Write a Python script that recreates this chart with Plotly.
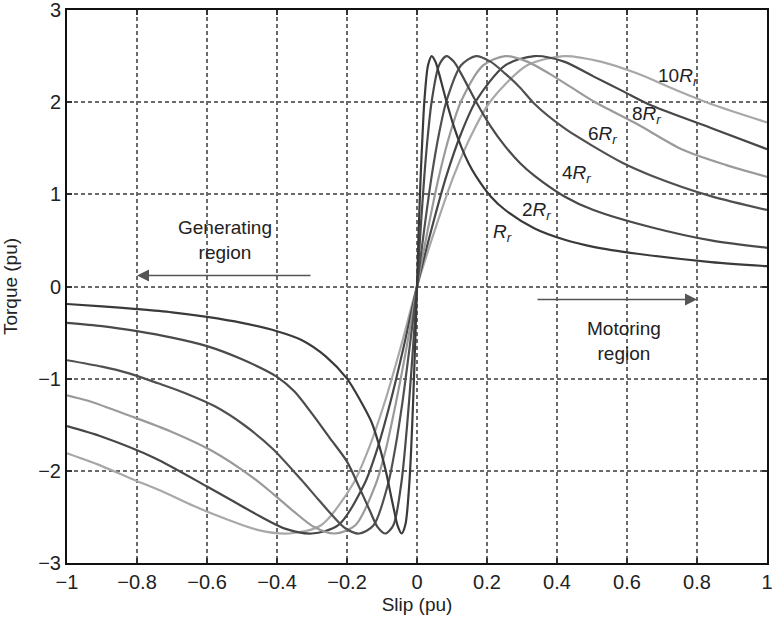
import plotly.graph_objects as go

# ---- data (slip in pu, torque in pu) ----
slip_r = [-1.0, -0.9, -0.8, -0.7, -0.6, -0.5, -0.4, -0.33, -0.26, -0.2, -0.16, -0.13, -0.11,
          -0.088, -0.077, -0.066, -0.055, -0.044, -0.033, -0.022, -0.0165, -0.011, -0.0055, 0,
          0.005, 0.0105, 0.016, 0.021, 0.0315, 0.042, 0.0525, 0.063, 0.0735, 0.084, 0.105,
          0.126, 0.147, 0.168, 0.21, 0.252, 0.336, 0.42, 0.504, 0.63, 0.84, 1.0]
torque_r = [-0.19, -0.215, -0.245, -0.28, -0.33, -0.395, -0.485, -0.58, -0.76, -1.0, -1.25, -1.47, -1.70,
            -2.02, -2.22, -2.42, -2.60, -2.68, -2.58, -2.14, -1.75, -1.24, -0.645, 0,
            0.63, 1.20, 1.66, 2.01, 2.40, 2.50, 2.44, 2.31, 2.16, 2.01, 1.74,
            1.52, 1.34, 1.20, 0.98, 0.83, 0.63, 0.51, 0.43, 0.355, 0.265, 0.22]

slip_2r = [-1.0, -0.9, -0.8, -0.7, -0.6, -0.5, -0.4, -0.35, -0.3, -0.25, -0.2, -0.16, -0.135,
           -0.1125, -0.09, -0.0675, -0.045, -0.034, -0.0225, -0.011, 0,
           0.0105, 0.021, 0.0315, 0.042, 0.063, 0.084, 0.105, 0.126, 0.147, 0.168, 0.21,
           0.252, 0.294, 0.336, 0.42, 0.504, 0.672, 0.84, 1.0]
torque_2r = [-0.394, -0.43, -0.485, -0.555, -0.647, -0.79, -0.98, -1.14, -1.38, -1.64, -1.90, -2.22, -2.43,
             -2.61, -2.68, -2.59, -2.14, -1.75, -1.24, -0.645, 0,
             0.63, 1.20, 1.66, 2.01, 2.40, 2.50, 2.44, 2.31, 2.16, 2.01, 1.74,
             1.52, 1.34, 1.20, 0.98, 0.83, 0.64, 0.50, 0.42]

slip_4r = [-1.0, -0.9, -0.825, -0.74, -0.66, -0.5775, -0.495, -0.4125, -0.33, -0.289, -0.2475,
           -0.206, -0.165, -0.124, -0.0825, -0.062, -0.041, -0.0206, 0,
           0.021, 0.042, 0.063, 0.084, 0.126, 0.168, 0.21, 0.252, 0.294, 0.336, 0.42,
           0.504, 0.588, 0.672, 0.84, 1.0]
torque_4r = [-0.80, -0.87, -0.94, -1.05, -1.16, -1.30, -1.50, -1.76, -2.10, -2.28, -2.46,
             -2.62, -2.68, -2.59, -2.14, -1.75, -1.24, -0.645, 0,
             0.63, 1.20, 1.66, 2.01, 2.40, 2.50, 2.44, 2.31, 2.16, 1.98, 1.72,
             1.52, 1.34, 1.20, 0.98, 0.83]

slip_6r = [-1.0, -0.94, -0.8225, -0.705, -0.5875, -0.47, -0.411, -0.3525, -0.294, -0.235,
           -0.176, -0.1175, -0.088, -0.059, -0.029, 0,
           0.0315, 0.063, 0.0945, 0.126, 0.189, 0.252, 0.315, 0.378, 0.441, 0.504,
           0.63, 0.756, 0.882, 1.0]
torque_6r = [-1.18, -1.24, -1.40, -1.57, -1.78, -2.07, -2.25, -2.44, -2.61, -2.68,
             -2.59, -2.14, -1.75, -1.24, -0.645, 0,
             0.63, 1.20, 1.66, 2.01, 2.40, 2.50, 2.44, 2.31, 2.16, 2.01,
             1.76, 1.49, 1.32, 1.19]

slip_8r = [-1.0, -0.9, -0.75, -0.6, -0.525, -0.45, -0.375, -0.30, -0.225, -0.15, -0.1125,
           -0.075, -0.0375, 0,
           0.042, 0.084, 0.126, 0.168, 0.252, 0.336, 0.42, 0.504, 0.588, 0.672, 0.84, 1.0]
torque_8r = [-1.515, -1.63, -1.86, -2.17, -2.33, -2.49, -2.63, -2.68, -2.59, -2.14, -1.75,
             -1.24, -0.645, 0,
             0.63, 1.20, 1.66, 2.01, 2.40, 2.50, 2.44, 2.28, 2.12, 1.96, 1.72, 1.49]

slip_10r = [-1.0, -0.9125, -0.82, -0.73, -0.639, -0.5475, -0.456, -0.365, -0.274, -0.1825,
            -0.137, -0.091, -0.0456, 0,
            0.0525, 0.105, 0.1575, 0.21, 0.315, 0.42, 0.525, 0.63, 0.735, 0.84, 1.0]
torque_10r = [-1.81, -1.93, -2.08, -2.22, -2.38, -2.52, -2.64, -2.68, -2.59, -2.14,
              -1.75, -1.24, -0.645, 0,
              0.63, 1.20, 1.66, 2.01, 2.40, 2.50, 2.44, 2.31, 2.14, 1.98, 1.78]

series_names = ["10Rr", "8Rr", "6Rr", "4Rr", "2Rr", "Rr"]
series_slip = [slip_10r, slip_8r, slip_6r, slip_4r, slip_2r, slip_r]
series_torque = [torque_10r, torque_8r, torque_6r, torque_4r, torque_2r, torque_r]
series_color = ["#a8a8a8", "#474747", "#9a9a9a", "#505050", "#4a4a4a", "#3a3a3a"]

x_ticks = [-1, -0.8, -0.6, -0.4, -0.2, 0, 0.2, 0.4, 0.6, 0.8, 1]
y_ticks = [-3, -2, -1, 0, 1, 2, 3]

# curve labels: (text, slip, torque)
curve_labels = [
    ("10<i>R</i><sub><i>r</i></sub>", 0.745, 2.27),
    ("8<i>R</i><sub><i>r</i></sub>", 0.655, 1.86),
    ("6<i>R</i><sub><i>r</i></sub>", 0.53, 1.64),
    ("4<i>R</i><sub><i>r</i></sub>", 0.455, 1.22),
    ("2<i>R</i><sub><i>r</i></sub>", 0.34, 0.82),
    ("<i>R</i><sub><i>r</i></sub>", 0.245, 0.58),
]

FONT = "Liberation Sans, Arial, Helvetica, sans-serif"

fig = go.Figure()
for name, xs, ys, col in zip(series_names, series_slip, series_torque, series_color):
    fig.add_trace(go.Scatter(
        x=xs, y=ys, mode="lines", name=name,
        line=dict(color=col, width=2.2, shape="spline", smoothing=0.8),
        showlegend=False, hoverinfo="x+y",
    ))

annotations = []
for txt, sx, ty in curve_labels:
    annotations.append(dict(x=sx, y=ty, xref="x", yref="y", text=txt, showarrow=False,
                            font=dict(family=FONT, size=19, color="#222")))

# region texts
annotations.append(dict(x=-0.55, y=0.5, xref="x", yref="y", text="Generating<br>region",
                        showarrow=False, font=dict(family=FONT, size=19, color="#222")))
annotations.append(dict(x=0.59, y=-0.59, xref="x", yref="y", text="Motoring<br>region",
                        showarrow=False, font=dict(family=FONT, size=19, color="#222")))
# arrows
annotations.append(dict(x=-0.80, y=0.12, ax=-0.30, ay=0.12, xref="x", yref="y",
                        axref="x", ayref="y", text="", showarrow=True, arrowhead=2,
                        arrowsize=1.6, arrowwidth=1.5, arrowcolor="#555"))
annotations.append(dict(x=0.80, y=-0.14, ax=0.34, ay=-0.14, xref="x", yref="y",
                        axref="x", ayref="y", text="", showarrow=True, arrowhead=2,
                        arrowsize=1.6, arrowwidth=1.5, arrowcolor="#555"))

fig.update_layout(
    width=772, height=628,
    margin=dict(l=67, r=5, t=10, b=65, autoexpand=False),
    paper_bgcolor="white", plot_bgcolor="white",
    font=dict(family=FONT, size=20, color="#222"),
    annotations=annotations,
)
axis_common = dict(
    showgrid=True, gridcolor="#6a6a6a", gridwidth=1.5, griddash="4px,3px",
    zeroline=False, showline=True, linecolor="#111", linewidth=2, mirror="ticks",
    ticks="inside", ticklen=5, tickcolor="#333", tickwidth=1.5,
    ticklabeloverflow="allow", automargin=False,
    tickfont=dict(family=FONT, size=20, color="#222"),
)
fig.update_xaxes(range=[-1, 1], tickvals=x_ticks,
                 title=dict(text="Slip (pu)", font=dict(family=FONT, size=19), standoff=6),
                 **axis_common)
fig.update_yaxes(range=[-3, 3], tickvals=y_ticks,
                 title=dict(text="Torque (pu)", font=dict(family=FONT, size=19), standoff=18),
                 **axis_common)

# remove the page's default body margin so the figure sits at the window's corner
fig.write_html("out.html", config={"displayModeBar": False},
               post_script="document.body.style.margin='0';document.body.style.overflow='hidden';")
